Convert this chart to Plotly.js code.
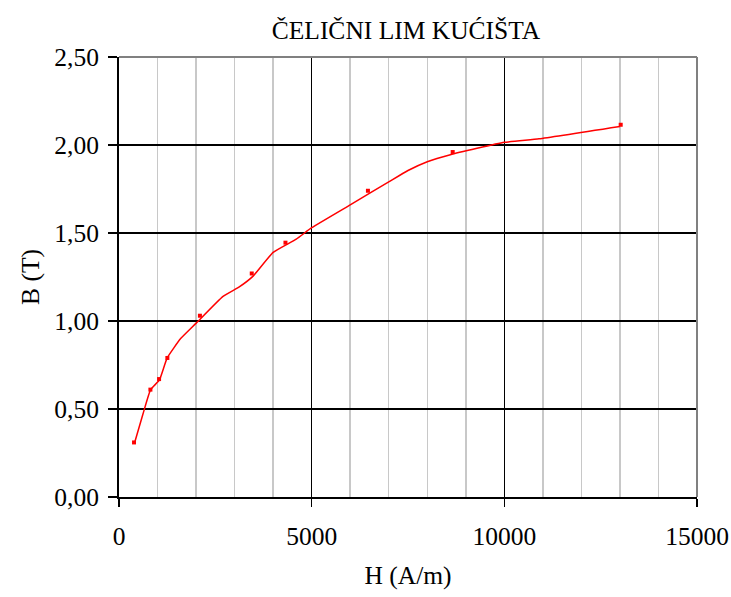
<!DOCTYPE html>
<html>
<head>
<meta charset="utf-8">
<script src="https://cdn.plot.ly/plotly-3.0.1.min.js"></script>
<style>
  html, body { margin: 0; padding: 0; background: #fff; }
  #chart { width: 731px; height: 597px; }
  #chart text { font-family: "Liberation Serif", "Times New Roman", serif !important; }
</style>
</head>
<body>
<div id="chart"></div>
<script>
// Measured points (markers)
const measuredH = [390, 815, 1040, 1255, 2100, 3445, 4320, 6460, 8660, 13020];
const measuredB = [0.31, 0.61, 0.67, 0.79, 1.03, 1.27, 1.445, 1.74, 1.96, 2.115];

// Magnetisation curve (line)
const curveH = [407, 620, 820, 1050, 1250, 1600, 1990, 2700, 3130, 3480, 4000, 4600, 5000, 6000, 7000, 7500, 8000, 8600, 10000, 10900, 13000];
const curveB = [0.31, 0.47, 0.61, 0.665, 0.79, 0.90, 0.985, 1.14, 1.195, 1.255, 1.39, 1.465, 1.53, 1.66, 1.79, 1.855, 1.905, 1.945, 2.015, 2.035, 2.105];

const titleText = 'ČELIČNI LIM KUĆIŠTA';
const xTitle = 'H (A/m)';
const yTitle = 'B (T)';

const FONT = '"Liberation Serif"';

const traces = [
  {
    x: curveH, y: curveB, type: 'scatter', mode: 'lines',
    line: { color: '#ff0000', width: 1.5, shape: 'spline', smoothing: 0.4 },
    hoverinfo: 'skip', showlegend: false
  },
  {
    x: measuredH, y: measuredB, type: 'scatter', mode: 'markers',
    marker: { color: '#ff0000', symbol: 'square', size: 4 },
    showlegend: false
  }
];

const layout = {
  width: 731, height: 597,
  margin: { l: 119, r: 34, t: 57, b: 100 },
  paper_bgcolor: '#ffffff', plot_bgcolor: '#ffffff',
  font: { family: FONT, color: '#000000', size: 25 },
  separators: ',.',
  title: { text: titleText, x: 0.5554, xanchor: 'center', y: 0.9497, yanchor: 'middle',
           font: { family: FONT, size: 25.5, color: '#000' } },
  xaxis: {
    range: [0, 15000], dtick: 5000, tick0: 0, tickformat: 'd',
    showgrid: true, gridcolor: '#000000', gridwidth: 1.5,
    minor: { dtick: 1000, showgrid: true, gridcolor: '#c8c8c8', gridwidth: 1.5, ticks: '' },
    zeroline: false, showline: true, linecolor: '#000000', linewidth: 2,
    ticks: 'outside', ticklen: 8, tickwidth: 1.5, tickcolor: '#000',
    ticklabelstandoff: 7,
    tickfont: { family: FONT, size: 25.5, color: '#000' },
    title: { text: xTitle, font: { family: FONT, size: 25.5, color: '#000' }, standoff: 17 },
    automargin: false, fixedrange: true
  },
  yaxis: {
    range: [0, 2.5], dtick: 0.5, tick0: 0, tickformat: '.2f',
    showgrid: true, gridcolor: '#000000', gridwidth: 1.5,
    zeroline: false, showline: true, linecolor: '#000000', linewidth: 2,
    ticks: 'outside', ticklen: 9, tickwidth: 1.5, tickcolor: '#000',
    ticklabelstandoff: 4,
    tickfont: { family: FONT, size: 25.5, color: '#000' },
    title: { text: yTitle, font: { family: FONT, size: 25.5, color: '#000' }, standoff: 7 },
    automargin: false, fixedrange: true
  },
  shapes: [
    { type: 'line', xref: 'paper', yref: 'paper', x0: 0, x1: 1, y0: 1, y1: 1,
      line: { color: '#808080', width: 2 }, layer: 'above' },
    { type: 'line', xref: 'paper', yref: 'paper', x0: 1, x1: 1, y0: 0, y1: 1,
      line: { color: '#808080', width: 2 }, layer: 'above' }
  ]
};

Plotly.newPlot('chart', traces, layout, { displayModeBar: false, staticPlot: true });
</script>
</body>
</html>
